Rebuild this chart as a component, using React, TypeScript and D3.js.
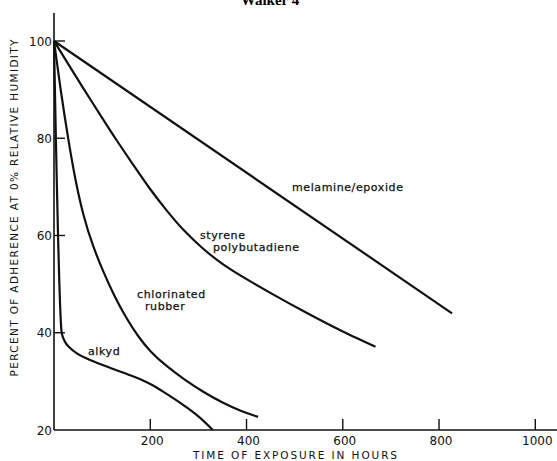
import React, { useEffect, useRef } from 'react';
import * as d3 from 'd3';

// hours of exposure vs percent adherence
const melamine: [number, number][] = [[0, 100], [827, 44]];
const styrene: [number, number][] = [
  [0, 100], [30, 95.2], [60, 90.4], [100, 84.2], [130, 79.55], [165, 74.5], [199, 69.55],
  [235, 65], [270, 60.9], [310, 57.2], [350, 54], [407, 50.6], [460, 47.6],
  [511, 44.8], [580, 41.2], [620, 39.3], [668, 37.1],
];
const chlorinated: [number, number][] = [
  [0, 100], [15, 89], [30, 79.5], [45, 71], [61, 64], [80, 58], [102, 52.6],
  [125, 47.6], [150, 43], [175, 39.2], [199, 36.2], [235, 33], [269, 30.5],
  [310, 27.8], [352, 25.5], [390, 23.8], [424, 22.7],
];
const alkyd: [number, number][] = [
  [0, 100], [16, 40], [22, 38.3], [33, 36.9], [50, 35.6], [75, 34.4], [100, 33.4],
  [130, 32.3], [160, 31.2], [185, 30.2], [205, 29.2], [225, 28], [250, 26.4],
  [275, 24.7], [300, 22.8], [330, 20],
];

const xTicks = [200, 400, 600, 800, 1000];
const yTicks = [100, 80, 60, 40, 20];

const curveLabels = [
  { lines: ['melamine/epoxide'], x: 292, y: 191, dx: [0] },
  { lines: ['styrene', 'polybutadiene'], x: 200, y: 239, dx: [0, 13] },
  { lines: ['chlorinated', 'rubber'], x: 137, y: 298, dx: [0, 8] },
  { lines: ['alkyd'], x: 88, y: 355, dx: [0] },
];

const App = () => {
  const ref = useRef<SVGSVGElement | null>(null);

  useEffect(() => {
    const svg = d3.select(ref.current);
    svg.selectAll('*').remove();

    const font = 'DejaVu Sans, sans-serif';
    const x = d3.scaleLinear().domain([0, 1000]).range([54, 535.3]);
    const y = d3.scaleLinear().domain([20, 100]).range([430, 41]);

    // title, mostly cut off at the top like the scan
    svg.append('text')
      .attr('x', 270).attr('y', 5)
      .attr('text-anchor', 'middle')
      .attr('font-family', 'Liberation Serif, serif')
      .attr('font-weight', 'bold')
      .attr('font-size', 15)
      .text('Walker 4');

    // axes
    svg.append('line')
      .attr('x1', x(0)).attr('x2', x(0))
      .attr('y1', 13).attr('y2', y(20))
      .attr('stroke', '#111').attr('stroke-width', 1.6);
    svg.append('line')
      .attr('x1', x(0)).attr('x2', 557)
      .attr('y1', y(20)).attr('y2', y(20))
      .attr('stroke', '#111').attr('stroke-width', 1.6);

    // y ticks (inward)
    svg.selectAll('.yt').data(yTicks.filter(d => d > 20)).enter().append('line')
      .attr('x1', x(0)).attr('x2', x(0) + 11)
      .attr('y1', d => y(d)).attr('y2', d => y(d))
      .attr('stroke', '#111').attr('stroke-width', 1.4);
    svg.selectAll('.yl').data(yTicks).enter().append('text')
      .attr('x', x(0) - 2).attr('y', d => y(d) + 4.5)
      .attr('text-anchor', 'end')
      .attr('font-family', font).attr('font-size', 12)
      .attr('fill', '#111')
      .text(d => d);

    // x ticks (inward)
    svg.selectAll('.xt').data(xTicks).enter().append('line')
      .attr('x1', d => x(d)).attr('x2', d => x(d))
      .attr('y1', y(20)).attr('y2', y(20) - 11)
      .attr('stroke', '#111').attr('stroke-width', 1.4);
    svg.selectAll('.xl').data(xTicks).enter().append('text')
      .attr('x', d => x(d) + 2).attr('y', 445)
      .attr('text-anchor', 'middle')
      .attr('font-family', font).attr('font-size', 12)
      .attr('fill', '#111')
      .text(d => d);

    // axis titles
    svg.append('text')
      .attr('x', 295).attr('y', 459)
      .attr('text-anchor', 'middle')
      .attr('font-family', font).attr('font-size', 10.5)
      .attr('textLength', 204).attr('lengthAdjust', 'spacing')
      .attr('fill', '#111')
      .text('TIME OF EXPOSURE IN HOURS');
    svg.append('text')
      .attr('transform', 'translate(18,208) rotate(-90)')
      .attr('text-anchor', 'middle')
      .attr('font-family', font).attr('font-size', 10.5)
      .attr('textLength', 337).attr('lengthAdjust', 'spacing')
      .attr('fill', '#111')
      .text('PERCENT OF ADHERENCE AT 0% RELATIVE HUMIDITY');

    // curves: the smooth ones through a B-spline, alkyd keeps its sharp knee
    const smooth = d3.line<[number, number]>()
      .x(d => x(d[0]))
      .y(d => y(d[1]))
      .curve(d3.curveBasis);
    const knee = d3.line<[number, number]>()
      .x(d => x(d[0]))
      .y(d => y(d[1]))
      .curve(d3.curveMonotoneX);

    const series: [[number, number][], typeof smooth][] = [
      [melamine, smooth], [styrene, smooth], [chlorinated, smooth], [alkyd, knee],
    ];
    series.forEach(([data, gen]) => {
      svg.append('path')
        .datum(data)
        .attr('fill', 'none')
        .attr('stroke', '#111')
        .attr('stroke-width', 2.2)
        .attr('stroke-linejoin', 'round')
        .attr('d', gen);
    });

    // curve labels
    curveLabels.forEach(l => {
      l.lines.forEach((t, i) => {
        svg.append('text')
          .attr('x', l.x + l.dx[i]).attr('y', l.y + i * 12)
          .attr('font-family', font).attr('font-size', 11)
          .attr('letter-spacing', 0.6)
          .attr('stroke', '#111').attr('stroke-width', 0.25)
          .attr('fill', '#111')
          .text(t);
      });
    });
  }, []);

  return (
    <svg ref={ref} width={557} height={461}
      style={{ position: 'absolute', left: 0, top: 0, background: '#fff' }} />
  );
};

export default App;
